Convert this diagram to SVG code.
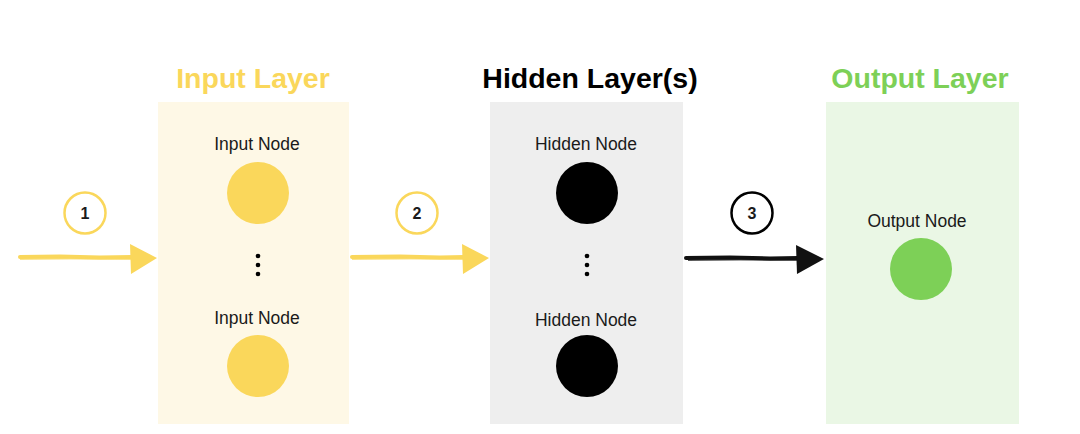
<svg xmlns="http://www.w3.org/2000/svg" width="1080" height="434" viewBox="0 0 1080 434">
<style>
.title{font-family:"Liberation Sans",Arial,sans-serif;font-weight:bold;font-size:28.5px;text-anchor:middle}
.lbl{font-family:"Liberation Sans",Arial,sans-serif;font-size:17.5px;fill:#1a1a1a;text-anchor:middle}
.num{font-family:"Liberation Sans",Arial,sans-serif;font-weight:bold;font-size:16px;fill:#1a1a1a;text-anchor:middle}
.yel{fill:#FAD75B}
.blk{fill:#000}
.grn{fill:#7DD057}
</style>
<rect width="1080" height="434" fill="#fff"/>
<g id="input-layer">
<rect x="158" y="102" width="191" height="322" fill="#FEF8E6"/>
<text class="title" x="253" y="88" fill="#FAD75B">Input Layer</text>
<g id="input-node-1"><text class="lbl" x="257" y="150">Input Node</text><circle class="yel" cx="258" cy="193" r="31"/></g>
<g id="input-dots" class="blk"><circle cx="258" cy="256" r="2.3"/><circle cx="258" cy="265" r="2.3"/><circle cx="258" cy="274" r="2.3"/></g>
<g id="input-node-2"><text class="lbl" x="257" y="324">Input Node</text><circle class="yel" cx="258" cy="366" r="31"/></g>
</g>
<g id="hidden-layer">
<rect x="490" y="102" width="193" height="322" fill="#EEEEEE"/>
<text class="title" x="590" y="88" fill="#000">Hidden Layer(s)</text>
<g id="hidden-node-1"><text class="lbl" x="586" y="150">Hidden Node</text><circle class="blk" cx="587" cy="193" r="31"/></g>
<g id="hidden-dots" class="blk"><circle cx="587" cy="256" r="2.3"/><circle cx="587" cy="265" r="2.3"/><circle cx="587" cy="274" r="2.3"/></g>
<g id="hidden-node-2"><text class="lbl" x="586" y="326">Hidden Node</text><circle class="blk" cx="587" cy="366" r="31"/></g>
</g>
<g id="output-layer">
<rect x="826" y="102" width="193" height="322" fill="#EAF7E5"/>
<text class="title" x="920" y="88" fill="#7DD057">Output Layer</text>
<g id="output-node"><text class="lbl" x="917" y="227">Output Node</text><circle class="grn" cx="921" cy="269" r="31"/></g>
</g>
<g id="connectors">
<g id="step-1">
<circle cx="85" cy="213" r="20.5" fill="#fff" stroke="#FAD75B" stroke-width="2.5"/>
<text class="num" x="85" y="219">1</text>
<path d="M20 257 L60 256.5 L100 257.5 L132 257" stroke="#FAD75B" stroke-width="4" fill="none" stroke-linecap="round"/>
<path d="M20 259 L70 258.5 L132 259" stroke="#FAD75B" stroke-width="2" fill="none" opacity="0.7"/>
<polygon points="130,244 157,258 131,274" fill="#FAD75B"/>
</g>
<g id="step-2">
<circle cx="417" cy="213" r="20.5" fill="#fff" stroke="#FAD75B" stroke-width="2.5"/>
<text class="num" x="417" y="219">2</text>
<path d="M352 257 L400 256.5 L440 257.5 L464 257" stroke="#FAD75B" stroke-width="4" fill="none" stroke-linecap="round"/>
<path d="M352 259 L410 258.5 L464 259" stroke="#FAD75B" stroke-width="2" fill="none" opacity="0.7"/>
<polygon points="462,244 489,258 463,274" fill="#FAD75B"/>
</g>
<g id="step-3">
<circle cx="752" cy="213" r="20.5" fill="#fff" stroke="#000" stroke-width="2.5"/>
<text class="num" x="752" y="219">3</text>
<path d="M686 258 L730 257.5 L770 258.5 L798 258" stroke="#111" stroke-width="4" fill="none" stroke-linecap="round"/>
<path d="M688 260 L740 259.5 L798 260" stroke="#111" stroke-width="2" fill="none" opacity="0.7"/>
<polygon points="796,245 824,259 797,274" fill="#111"/>
</g>
</g>
</svg>
